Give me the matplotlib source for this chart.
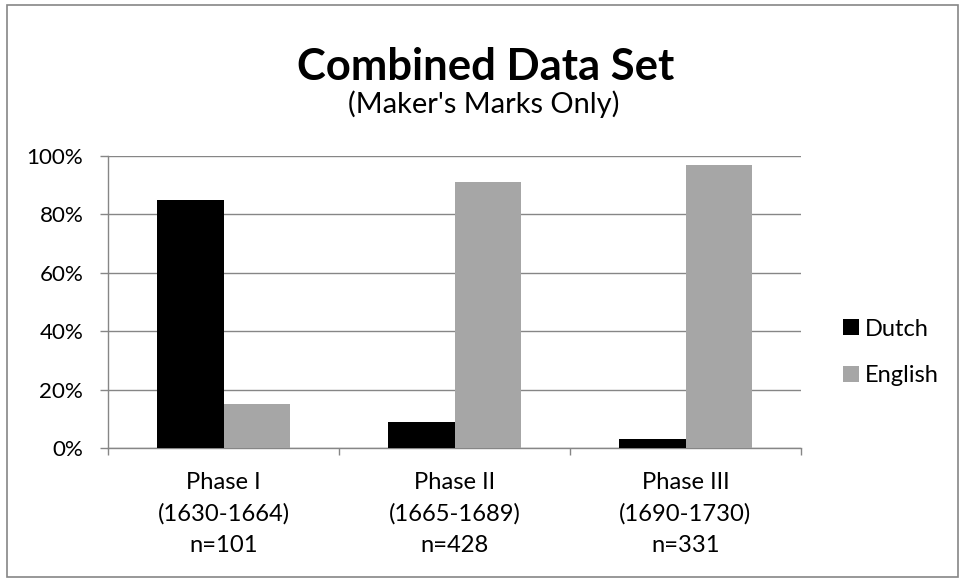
import matplotlib
matplotlib.use("Agg")
import matplotlib.pyplot as plt
import numpy as np
from matplotlib.patches import Rectangle

categories = ["Phase I\n(1630-1664)\nn=101", "Phase II\n(1665-1689)\nn=428", "Phase III\n(1690-1730)\nn=331"]
dutch = [85, 9, 3]
english = [15, 91, 97]
series_names = ["Dutch", "English"]
yticks = [0, 20, 40, 60, 80, 100]
ytick_labels = ["0%", "20%", "40%", "60%", "80%", "100%"]

plt.rcParams['font.family'] = ['Lato', 'DejaVu Sans']
grid_c = "#868686"
W, H = 960, 580


def fx(px):
    return px / W


def fy(py):
    return (H - py) / H


fig = plt.figure(figsize=(9.6, 5.8), dpi=100)
fig.patches.append(Rectangle((fx(7), fy(577)), fx(958) - fx(7), fy(5) - fy(577),
                             transform=fig.transFigure, fill=False,
                             edgecolor=grid_c, linewidth=1.2))
ax = fig.add_axes([fx(108), fy(448), fx(801) - fx(108), fy(156) - fy(448)])

x = np.arange(len(categories))
w = 0.286
ax.bar(x - w / 2, dutch, w, color="black", label=series_names[0], zorder=3)
ax.bar(x + w / 2, english, w, color="#a6a6a6", label=series_names[1], zorder=3)

ax.set_xlim(-0.5, len(categories) - 0.5)
ax.set_ylim(0, 100)
ax.set_yticks(yticks)
ax.set_yticklabels(ytick_labels, fontsize=16)
ax.yaxis.grid(True, color=grid_c, linewidth=1.0, zorder=0)
ax.set_xticks(x)
ax.set_xticks(np.arange(-0.5, len(categories), 1.0), minor=True)
ax.tick_params(axis='x', which='minor', length=5, color=grid_c, width=1)
ax.tick_params(axis='y', length=5.8, color=grid_c, width=1, pad=12)
for s in ["top", "right"]:
    ax.spines[s].set_visible(False)
for s in ["left", "bottom"]:
    ax.spines[s].set_color(grid_c)
    ax.spines[s].set_linewidth(1.0)

fig.canvas.draw()
r = fig.canvas.get_renderer()


def ext(t):
    return t.get_window_extent(r)


def fit_size(s, target_w, **kw):
    t = fig.text(0, 0, s, fontsize=20, **kw)
    size = 20 * target_w / ext(t).width
    t.remove()
    return size


# Title and subtitle
title = fig.text(fx(486), fy(80), "Combined Data Set", ha="center", va="baseline",
                 fontsize=fit_size("Combined Data Set", 378, fontweight="bold"),
                 fontweight="bold")
sub = fig.text(fx(484), fy(104.5), "(Maker's Marks Only)", ha="center", va="center",
               fontsize=fit_size("(Maker's Marks Only)", 272))

# Y tick label size
ax.tick_params(axis='y', labelsize=fit_size("100%", 57))

# X tick labels
fsx = fit_size("(1630-1664)", 132)
t1 = fig.text(0, 0, "A", fontsize=fsx, linespacing=1.0)
t3 = fig.text(0, 0, "A\nA\nA", fontsize=fsx, linespacing=1.0)
pitch1 = (ext(t3).height - ext(t1).height) / 2
t1.remove()
t3.remove()
ls = 33.5 / pitch1
ax.set_xticklabels(categories, fontsize=fsx, linespacing=ls)
pad = 10
ax.tick_params(axis='x', which='major', length=0, pad=pad)
fig.canvas.draw()
top_px = H - ext(ax.get_xticklabels()[0]).y1
pad += (472 - top_px) * 72 / 100
ax.tick_params(axis='x', which='major', length=0, pad=pad)

# Legend
fsl = fit_size("English", 74)
fsl_px = fsl * 100 / 72
tt = fig.text(0, 0, "Dutch", fontsize=fsl)
th = ext(tt).height
tt.remove()
row_h = max(th, 16)
leg = ax.legend(loc="center left", bbox_to_anchor=(fx(843), fy(352.5)),
                bbox_transform=fig.transFigure, frameon=False, fontsize=fsl,
                handlelength=16 / fsl_px, handleheight=16 / fsl_px,
                handletextpad=6 / fsl_px, labelspacing=(47 - row_h) / fsl_px,
                borderpad=0, borderaxespad=0)

fig.savefig("out.png", dpi=100)
